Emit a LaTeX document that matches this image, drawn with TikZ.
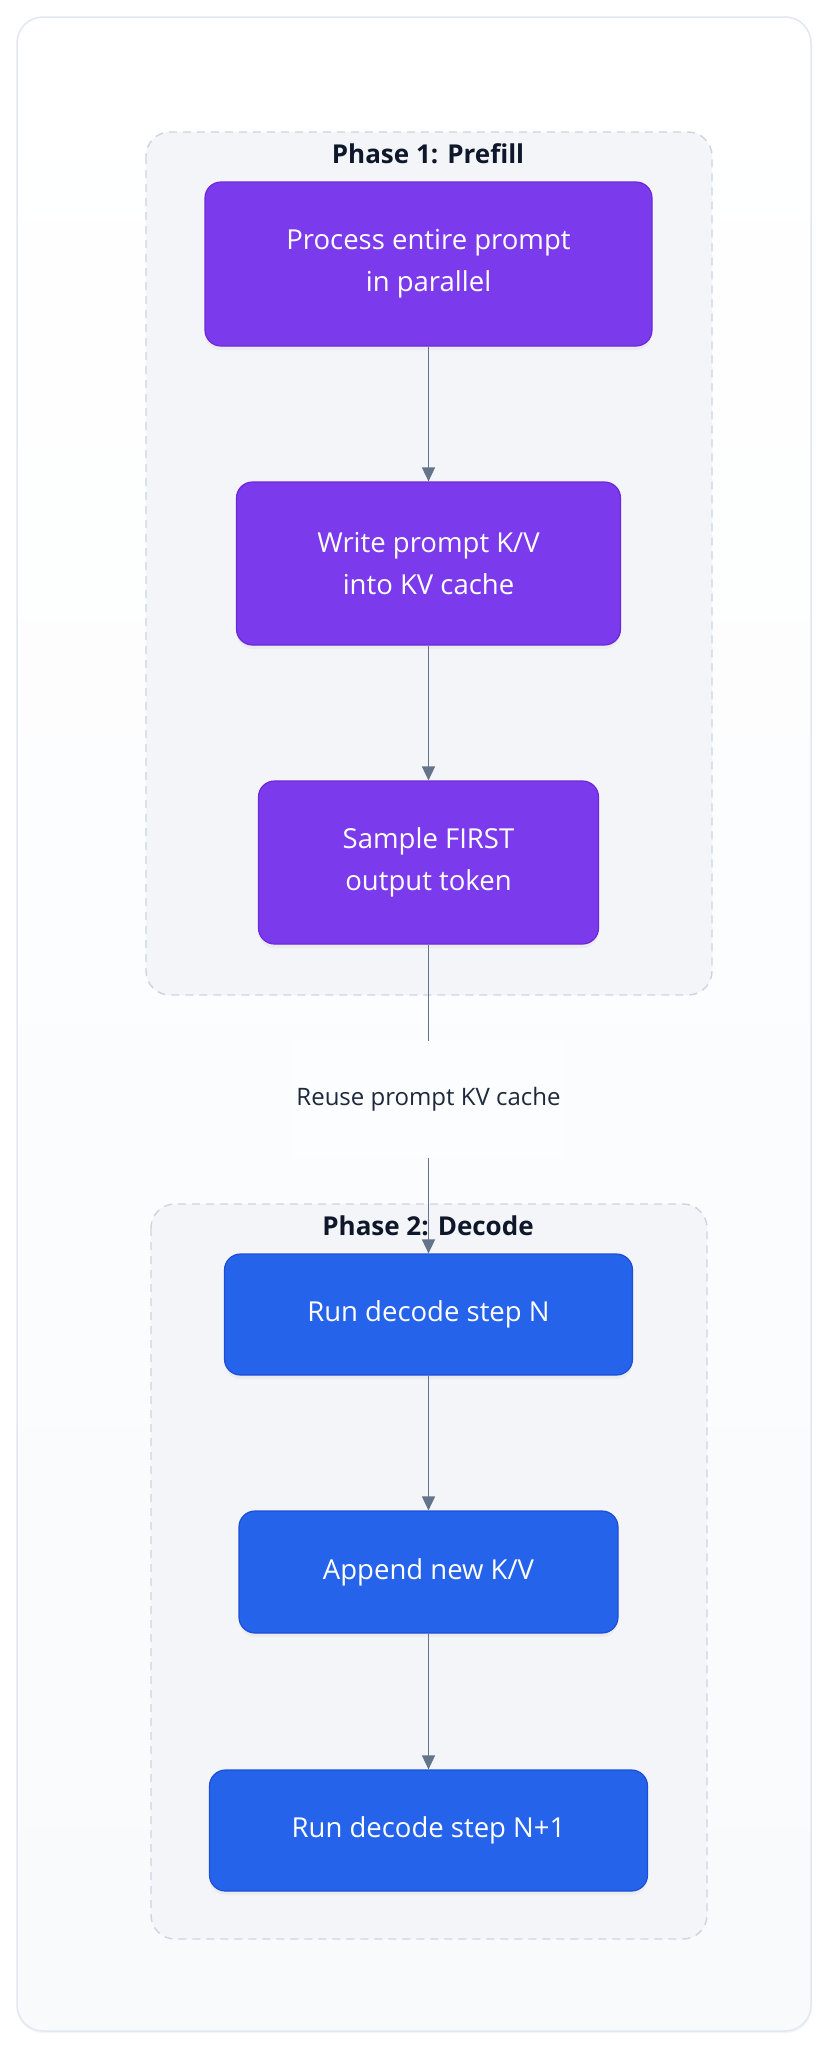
\documentclass[tikz,border=0pt]{standalone}
\usepackage{fontspec}
\setmainfont{Open Sans}
\usetikzlibrary{arrows.meta,shadows,positioning}
\definecolor{cardborder}{HTML}{E2E8F0}
\definecolor{cardbot}{HTML}{F8FAFC}
\definecolor{clusterfill}{HTML}{F3F5F9}
\definecolor{clusterborder}{HTML}{CBD5E1}
\definecolor{purplefill}{HTML}{7C3AED}
\definecolor{purpleborder}{HTML}{6D28D9}
\definecolor{bluefill}{HTML}{2563EB}
\definecolor{blueborder}{HTML}{1D4ED8}
\definecolor{edgecol}{HTML}{64748B}
\definecolor{titlecol}{HTML}{0F172A}
\definecolor{labelcol}{HTML}{1E293B}
\tikzset{
  x=1pt, y=-1pt,
  basebox/.style={rectangle, rounded corners=16pt, line width=1.2pt, text=white,
    align=center, font=\fontsize{27.5}{42}\selectfont, inner sep=0pt,
    drop shadow={opacity=0.07, shadow xshift=0pt, shadow yshift=-4pt}},
  purplebox/.style={basebox, fill=purplefill, draw=purpleborder},
  bluebox/.style={basebox, fill=bluefill, draw=blueborder},
  clusterbox/.style={rounded corners=24pt, fill=clusterfill, draw=clusterborder,
    line width=1.4pt, dash pattern=on 8pt off 6pt},
  clustertitle/.style={font=\fontsize{26}{30}\selectfont\bfseries, text=titlecol},
  flow/.style={draw=edgecol, line width=1.6pt, -{Triangle[length=14pt,width=13pt]}},
  edgelabel/.style={fill=white!60!cardbot, text=labelcol, font=\fontsize{24}{28}\selectfont,
    inner xsep=4pt, minimum height=117pt}
}
\begin{document}
\begin{tikzpicture}
\useasboundingbox (0,0) rectangle (828,2048);
\fill[white] (0,0) rectangle (828,2048);
% outer card
\fill[black!4] (17,18) [rounded corners=26pt] rectangle (812,2033);
\shade[top color=white, bottom color=cardbot, rounded corners=26pt] (17,17) rectangle (811,2031);
\draw[cardborder, line width=1.5pt, rounded corners=26pt] (17,17) rectangle (811,2031);
% clusters
\draw[clusterbox] (146,132) rectangle (712,995);
\node[clustertitle] (t1) at (428,154) {Phase 1: Prefill};
\draw[clusterbox] (151,1204) rectangle (707,1939);
\node[clustertitle] (t2) at (428,1226) {Phase 2: Decode};
% nodes
\node[purplebox, minimum width=447pt, minimum height=164pt] (n1) at (428.5,264) {Process entire prompt\\in parallel};
\node[purplebox, minimum width=384pt, minimum height=163pt] (n2) at (428.5,563.5) {Write prompt K/V\\into KV cache};
\node[purplebox, minimum width=340pt, minimum height=163pt] (n3) at (428.5,862.5) {Sample FIRST\\output token};
\node[bluebox, minimum width=408pt, minimum height=121pt] (n4) at (428.5,1314.5) {Run decode step N};
\node[bluebox, minimum width=379pt, minimum height=122pt] (n5) at (428.5,1572) {Append new K/V};
\node[bluebox, minimum width=438pt, minimum height=121pt] (n6) at (428.5,1830.5) {Run decode step N+1};
% edges
\draw[flow] (n1) -- (n2);
\draw[flow] (n2) -- (n3);
\draw[flow] (n3) -- (n4);
\draw[flow] (n4) -- (n5);
\draw[flow] (n5) -- (n6);
\node[edgelabel] (lbl) at (428.5,1099) {Reuse prompt KV cache};
\end{tikzpicture}
\end{document}
